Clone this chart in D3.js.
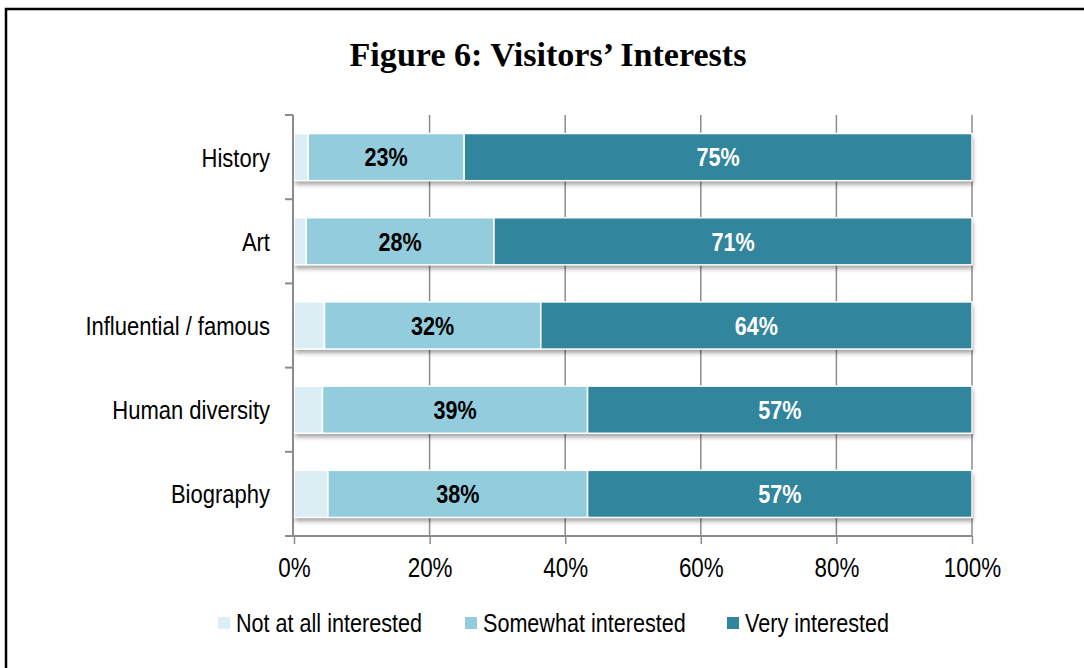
<!DOCTYPE html>
<html>
<head>
<meta charset="utf-8">
<script src="https://cdn.jsdelivr.net/npm/d3@7"></script>
<style>
  html, body { margin: 0; padding: 0; background: #fff; }
  svg { display: block; }
  .narrow { font-family: "Liberation Sans Narrow", "Arial Narrow", "Liberation Sans", sans-serif; }
</style>
</head>
<body>
<svg id="chart" width="1084" height="668"></svg>
<script>
// ---- data ----
const categories = ["History", "Art", "Influential / famous", "Human diversity", "Biography"];
const seriesNames = ["Not at all interested", "Somewhat interested", "Very interested"];
const notAtAll   = [2.1, 1.8, 4.5, 4.2, 5.0];
const somewhat   = [23.0, 27.7, 31.9, 39.1, 38.3];
const very       = [74.9, 70.5, 63.6, 56.7, 56.7];
const xTicks     = [0, 20, 40, 60, 80, 100];
const colors     = ["#dbeef4", "#93cddd", "#31859c"];
const titleText  = "Figure 6: Visitors\u2019 Interests";

const SQUEEZE = 0.83;
function squeeze(sel) {
  sel.each(function () {
    const w = this.getComputedTextLength();
    d3.select(this).attr("textLength", w * SQUEEZE).attr("lengthAdjust", "spacingAndGlyphs");
  });
}

const svg = d3.select("#chart");

// frame
svg.append("rect").attr("x", 6).attr("y", 9).attr("width", 1100).attr("height", 700)
  .attr("fill", "none").attr("stroke", "#000").attr("stroke-width", 2.5);

// title
const title = svg.append("text").attr("x", 548).attr("y", 66).attr("text-anchor", "middle")
  .attr("font-family", "'Liberation Serif', 'DejaVu Serif', serif")
  .attr("font-weight", "bold").attr("font-size", 29).attr("fill", "#000")
  .text(titleText);
{
  const w = title.node().getComputedTextLength();
  title.attr("font-size", 29 * 397 / w);
}

const x = d3.scaleLinear().domain([0, 100]).range([294, 972]);
const y = d3.scaleBand().domain(categories).range([115, 536]).paddingInner(0.44).paddingOuter(0.22);

const defs = svg.append("defs");
const f = defs.append("filter").attr("id", "shadow").attr("x", "-5%").attr("y", "-20%").attr("width", "110%").attr("height", "160%");
f.append("feDropShadow").attr("dx", 1).attr("dy", 4).attr("stdDeviation", 2)
  .attr("flood-color", "#000").attr("flood-opacity", 0.35);

// gridlines
const grid = svg.append("g");
grid.selectAll("line").data(xTicks.slice(1)).join("line")
  .attr("x1", d => x(d)).attr("x2", d => x(d)).attr("y1", 115).attr("y2", 536)
  .attr("stroke", "#8c8c8c").attr("stroke-width", 1.5);

// stacked data
const rows = categories.map((c, i) => ({ cat: c, v: [notAtAll[i], somewhat[i], very[i]] }));
const stack = d3.stack().keys([0, 1, 2]).value((d, k) => d.v[k]);
const stacked = stack(rows);

const barsG = svg.append("g");
rows.forEach((r, i) => {
  const total = r.v[0] + r.v[1] + r.v[2];
  barsG.append("rect").attr("x", x(0)).attr("y", y(r.cat)).attr("width", x(total) - x(0))
    .attr("height", y.bandwidth()).attr("fill", "#fff").attr("filter", "url(#shadow)");
});
stacked.forEach((s, k) => {
  barsG.append("g").selectAll("rect").data(s).join("rect")
    .attr("x", d => x(d[0])).attr("y", d => y(d.data.cat))
    .attr("width", d => x(d[1]) - x(d[0])).attr("height", y.bandwidth())
    .attr("fill", colors[k]).attr("stroke", "#fff").attr("stroke-width", 1.5);
});

// value labels
[1, 2].forEach(k => {
  svg.append("g").selectAll("text").data(stacked[k]).join("text")
    .attr("class", "narrow")
    .attr("x", d => (x(d[0]) + x(d[1])) / 2)
    .attr("y", d => y(d.data.cat) + y.bandwidth() / 2)
    .attr("dy", "0.36em").attr("text-anchor", "middle")
    .attr("font-size", 26).attr("font-weight", "bold")
    .attr("fill", k === 2 ? "#fff" : "#000")
    .text(d => Math.round(d[1] - d[0]) + "%")
    .call(squeeze);
});

// y axis
const yAxisG = svg.append("g");
yAxisG.append("line").attr("x1", 293).attr("x2", 293).attr("y1", 115).attr("y2", 536)
  .attr("stroke", "#8c8c8c").attr("stroke-width", 2);
const yBounds = categories.map(c => y(c) - y.step() * y.paddingInner() / 2).concat([536]);
yAxisG.selectAll("line.tick").data(yBounds).join("line").attr("class", "tick")
  .attr("x1", 285).attr("x2", 293).attr("y1", d => d).attr("y2", d => d)
  .attr("stroke", "#8c8c8c").attr("stroke-width", 2);
yAxisG.selectAll("text").data(categories).join("text")
  .attr("class", "narrow")
  .attr("x", 270).attr("y", d => y(d) + y.bandwidth() / 2).attr("dy", "0.36em")
  .attr("text-anchor", "end").attr("font-size", 26.5).attr("fill", "#000")
  .text(d => d)
  .call(squeeze);

// x axis
const xAxisG = svg.append("g").attr("transform", "translate(0,536)")
  .call(d3.axisBottom(x).tickValues(xTicks).tickFormat(d => d + "%").tickSize(8).tickPadding(14));
xAxisG.select(".domain").attr("stroke", "#8c8c8c").attr("stroke-width", 2)
  .attr("d", "M285,0H972");
xAxisG.selectAll(".tick line").attr("stroke", "#8c8c8c").attr("stroke-width", 1.5);
xAxisG.selectAll(".tick text").attr("class", "narrow").attr("font-size", 27).attr("fill", "#000")
  .call(squeeze);
xAxisG.attr("font-family", null);

// legend
const legendX = [218, 465, 727];
const lg = svg.append("g");
seriesNames.forEach((n, i) => {
  lg.append("rect").attr("x", legendX[i]).attr("y", 617).attr("width", 12).attr("height", 12)
    .attr("fill", colors[i]);
  lg.append("text").attr("class", "narrow").attr("x", legendX[i] + 18).attr("y", 623)
    .attr("dy", "0.36em").attr("font-size", 26).attr("fill", "#000").text(n)
    .call(squeeze);
});
</script>
</body>
</html>
